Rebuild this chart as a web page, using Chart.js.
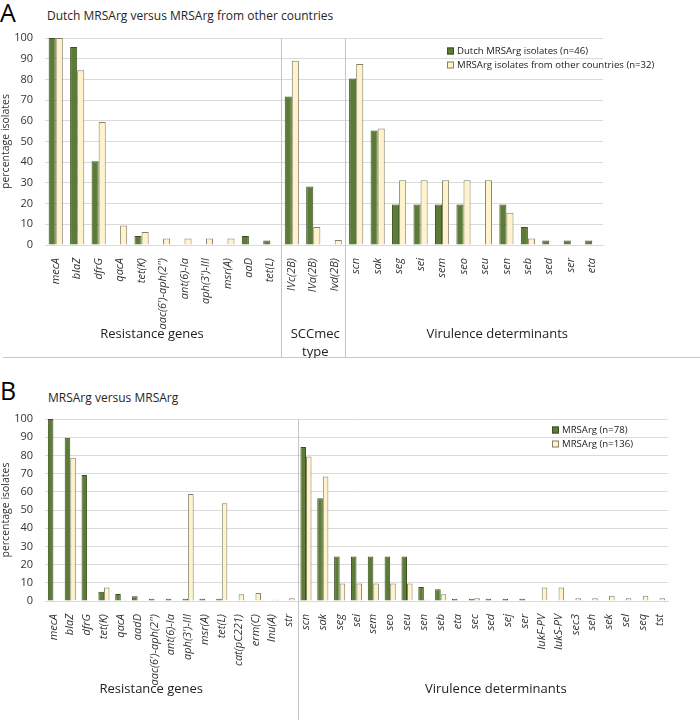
<!DOCTYPE html>
<html>
<head>
<meta charset="utf-8">
<script src="https://cdn.jsdelivr.net/npm/chart.js@4.4.1/dist/chart.umd.min.js"></script>
<style>
  html, body { margin: 0; padding: 0; background: #fff; }
  body { width: 700px; height: 720px; position: relative; overflow: hidden; font-family: "Open Sans", sans-serif; color: #262626; }
  .letter { position: absolute; font-size: 25px; line-height: 25px; color: #000; }
  .ptitle { position: absolute; font-size: 12px; line-height: 14px; color: #262626; white-space: nowrap; }
  .hsep { position: absolute; left: 3px; width: 697px; top: 357px; height: 0; border-top: 1px solid #c8c8c8; }
  #wrapA { position: absolute; left: 0; top: 0; width: 700px; height: 358px; }
  #wrapB { position: absolute; left: 0; top: 358px; width: 700px; height: 362px; }
</style>
</head>
<body>
<div class="letter" style="left:0px; top:0px;">A</div>
<div class="ptitle" style="left:47px; top:9px;">Dutch MRSArg versus MRSArg from other countries</div>
<div class="hsep"></div>
<div class="letter" style="left:0px; top:378px;">B</div>
<div class="ptitle" style="left:48px; top:391px;">MRSArg versus MRSArg</div>
<div id="wrapA"><canvas id="chartA" width="700" height="358"></canvas></div>
<div id="wrapB"><canvas id="chartB" width="700" height="362"></canvas></div>
<script>
// ---------- Panel A data ----------
const catsA = ['mecA','blaZ','dfrG','qacA','tet(K)',"aac(6')-aph(2'')","ant(6)-Ia","aph(3')-III",'msr(A)','aaD','tet(L)',
               'IVc(2B)','IVa(2B)','Ivd(2B)',
               'scn','sak','seg','sei','sem','seo','seu','sen','seb','sed','ser','eta'];
const dutchA = [100,95.7,40.4,0,4.3,0,0,0,0,4.3,2.2,
                71.7,28.3,0,
                80.4,55.3,19.6,19.6,19.6,19.6,0,19.6,8.7,2.2,2.2,2.2];
const otherA = [100,84.4,59.4,9.4,6.3,3.1,3.1,3.1,3.1,0,0,
                89.0,8.7,2.4,
                87.5,56.3,31.3,31.3,31.3,31.3,31.3,15.6,3.1,0,0,0];
const seriesNamesA = ['Dutch MRSArg isolates (n=46)','MRSArg isolates from other countries (n=32)'];
const groupNamesA = [['Resistance genes'],['SCCmec','type'],['Virulence determinants']];
const groupSizesA = [11,3,12];

// ---------- Panel B data ----------
const catsB = ['mecA','blaZ','dfrG','tet(K)','qacA','aadD',"aac(6')-aph(2'')",'ant(6)-Ia',"aph(3')-III",'msr(A)','tet(L)','cat(pC221)','erm(C)','lnu(A)','str',
               'scn','sak','seg','sei','sem','seo','seu','sen','seb','eta','sec','sed','sej','ser','lukF-PV','lukS-PV','sec3','seh','sek','sel','seq','tst'];
const mrsa78B = [100,89.7,69.2,5.1,3.8,2.6,1.3,1.3,1.3,1.3,1.3,0,0,0,0,
                 84.6,56.4,24.4,24.4,24.4,24.4,24.4,7.7,6.4,1.3,1.3,1.3,1.3,1.3,0,0,0,0,0,0,0,0];
const mrsa136B = [0,78.7,0,7.4,0.7,0,0,0,58.8,0,53.7,3.7,4.4,0.7,1.5,
                  79.4,68.4,9.6,9.6,9.6,9.6,9.6,0.7,3.7,0,1.5,0,0,0,7.4,7.4,1.5,1.5,2.9,1.5,2.9,1.5];
const seriesNamesB = ['MRSArg (n=78)','MRSArg (n=136)'];
const groupNamesB = [['Resistance genes'],['Virulence determinants']];
const groupSizesB = [15,22];

const yTicks = [0,10,20,30,40,50,60,70,80,90,100];

// ---------- styling ----------
const GREEN = '#5c7c35', GREEN_BORDER = '#3a5020';
const CREAM = '#fef3cb', CREAM_BORDER = '#85806a';
const TEXT = '#333333';
const GRID = '#dadada';
const SEP = '#c4c4c4';

const groupPlugin = {
  id: 'groupDecor',
  afterDraw(chart, args, opts) {
    const ctx = chart.ctx, area = chart.chartArea, x = chart.scales.x;
    ctx.save();
    let idx = 0;
    opts.sizes.forEach((n, gi) => {
      const x0 = x.getPixelForValue(idx - 0.5);
      const x1 = x.getPixelForValue(idx + n - 0.5);
      if (gi > 0) {
        ctx.strokeStyle = SEP; ctx.lineWidth = 1;
        ctx.beginPath();
        ctx.moveTo(Math.round(x0) + 0.5, area.top);
        ctx.lineTo(Math.round(x0) + 0.5, chart.height);
        ctx.stroke();
      }
      ctx.fillStyle = '#222';
      ctx.font = '13px "Open Sans"';
      ctx.textAlign = 'center'; ctx.textBaseline = 'middle';
      opts.names[gi].forEach((t, li) => {
        ctx.fillText(t, (x0 + x1) / 2 + opts.labelShift[gi], opts.labelY + li * opts.lineGap);
      });
      idx += n;
    });
    // legend
    chart.data.datasets.forEach((ds, i) => {
      const ly = opts.legendY + i * opts.legendGap;
      ctx.fillStyle = ds.backgroundColor;
      ctx.fillRect(opts.legendX, ly - 3.5, 7, 7);
      ctx.strokeStyle = ds.borderColor; ctx.lineWidth = 1;
      ctx.strokeRect(opts.legendX + 0.5, ly - 3, 6, 6);
      ctx.fillStyle = '#222';
      ctx.font = opts.legendFont + 'px "Open Sans"';
      ctx.textAlign = 'left'; ctx.textBaseline = 'middle';
      ctx.fillText(ds.label, opts.legendX + 10, ly);
    });
    ctx.restore();
  }
};

function makeChart(id, cats, s1, s2, names, sizes, groupNames, cfg) {
  return new Chart(document.getElementById(id), {
    type: 'bar',
    data: {
      labels: cats,
      datasets: [
        { label: names[0], data: s1, backgroundColor: GREEN, borderColor: GREEN_BORDER, borderWidth: 1 },
        { label: names[1], data: s2, backgroundColor: CREAM, borderColor: CREAM_BORDER, borderWidth: 1 }
      ]
    },
    options: {
      responsive: false,
      animation: false,
      devicePixelRatio: 1,
      categoryPercentage: 0.66,
      barPercentage: 1.0,
      layout: { padding: { left: 0, right: cfg.padRight, top: cfg.padTop, bottom: 0 } },
      plugins: {
        legend: { display: false },
        tooltip: { enabled: false },
        groupDecor: { sizes: sizes, names: groupNames, labelY: cfg.labelY, lineGap: 18, labelShift: cfg.labelShift,
                      legendX: cfg.legendX, legendY: cfg.legendY, legendGap: 14, legendFont: cfg.legendFont }
      },
      scales: {
        x: {
          grid: { display: false },
          border: { display: true, color: GRID },
          ticks: { color: TEXT, font: { family: 'Open Sans', size: 11, style: 'italic' },
                   minRotation: 90, maxRotation: 90, autoSkip: false, padding: 5 },
          afterFit(scale) { scale.height = cfg.xHeight; }
        },
        y: {
          min: 0, max: 100,
          afterBuildTicks(scale) { scale.ticks = yTicks.map(v => ({ value: v })); },
          grid: { color: GRID, drawTicks: false },
          border: { display: false },
          ticks: { color: TEXT, font: { family: 'Open Sans', size: 11 }, padding: 12 },
          title: { display: true, text: 'percentage isolates', color: TEXT,
                   font: { family: 'Open Sans', size: 10.5 }, padding: { top: 0, bottom: 0 } },
          afterFit(scale) { scale.width = 45; }
        }
      }
    },
    plugins: [groupPlugin]
  });
}

makeChart('chartA', catsA, dutchA, otherA, seriesNamesA, groupSizesA, groupNamesA,
  { padRight: 97, padTop: 38, xHeight: 113, labelY: 334, labelShift: [-11, 2, 23], legendX: 447, legendY: 51, legendFont: 9.6 });
makeChart('chartB', catsB, mrsa78B, mrsa136B, seriesNamesB, groupSizesB, groupNamesB,
  { padRight: 32, padTop: 61, xHeight: 119, labelY: 331, labelShift: [-20, 13], legendX: 552, legendY: 72, legendFont: 9.6 });
</script>
</body>
</html>
